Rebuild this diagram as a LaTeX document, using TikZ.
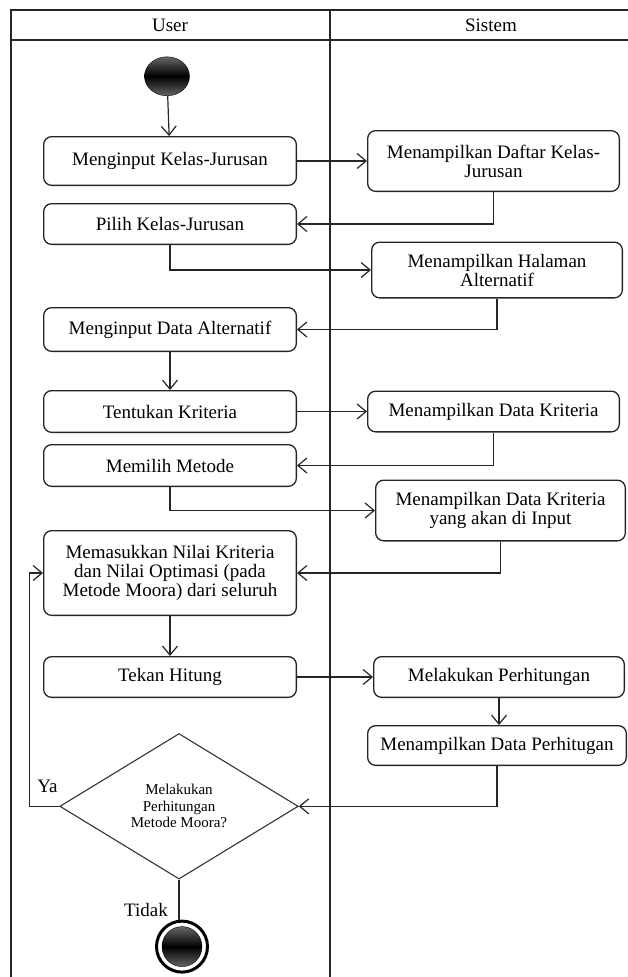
\documentclass[tikz,border=0pt]{standalone}
\usepackage{fontspec}
\setmainfont{Liberation Serif}
\usepackage{tikz}
\usetikzlibrary{arrows.meta,positioning,shapes.geometric}

\begin{document}
\begin{tikzpicture}[x=1pt, y=-1pt,
		every node/.style={font=\fontsize{19}{19}\selectfont},
		lane/.style={line width=1.3pt, black!85},
		box/.style={draw, black!85, text=black, line width=1.3pt, rounded corners=8pt, minimum width=252.7pt, minimum height=40.7pt, align=center, inner sep=2pt},
		decision/.style={diamond, draw, black!80, text=black, line width=1.1pt, minimum width=238.5pt, minimum height=145.5pt, inner sep=0pt, align=center, font=\fontsize{15}{16.5}\selectfont},
		startnode/.style={ellipse, draw, minimum width=45pt, minimum height=39pt, inner sep=0pt, top color=black!60, bottom color=black!60, middle color=black},
		finish/.style={circle, draw, line width=3pt, minimum size=51pt, inner sep=0pt, fill=white},
		enddot/.style={circle, draw, minimum size=40pt, inner sep=0pt, top color=black!60, bottom color=black!60, middle color=black},
		flow/.style={->, line width=1.2pt, black!85},
		>={Straight Barb[length=9pt,width=15pt]}]
		\useasboundingbox (0,0) rectangle (628,977);
		% swimlanes
		\draw[lane] (11,977) -- (11,10) -- (628,10);
		\draw[lane] (11,40) -- (628,40);
		\draw[lane] (330,10) -- (330,977);
		\node (user) at (170,25) {User};
		\node (sistem) at (491,25) {Sistem};
		% user lane
		\node[box, minimum height=48.7pt] (input) at (170,161) {Menginput Kelas-Jurusan};
		\node[startnode] (start)[above=40pt of input, xshift=-3pt]{};
		\node[box] (pilih)[below=17pt of input]{Pilih Kelas-Jurusan};
		\node[box, minimum height=43.7pt] (dataAlt)[below=62pt of pilih]{Menginput Data Alternatif};
		\node[box, minimum height=41.7pt] (tentukan)[below=38pt of dataAlt]{Tentukan Kriteria};
		\node[box, minimum height=41.7pt] (metode)[below=11pt of tentukan]{Memilih Metode};
		\node[box, minimum height=84.7pt] (nilai)[below=43pt of metode]{Memasukkan Nilai Kriteria\\dan Nilai Optimasi (pada\\Metode Moora) dari seluruh};
		\node[box] (hitung)[below=40pt of nilai]{Tekan Hitung};
		\node[decision] (cek)[below=35pt of hitung, xshift=9pt]{Melakukan\\Perhitungan\\Metode Moora?};
		\node[finish] (akhir)[below=40pt of cek, xshift=3pt]{};
		\node[enddot] (akhirDot) at (akhir) {};
		% sistem lane
		\node[box, minimum height=60.7pt, minimum width=251.7pt] (daftar)[right=70pt of input]{Menampilkan Daftar Kelas-\\Jurusan};
		\node[box, minimum height=55.7pt, minimum width=250.7pt] (halaman)[right=74pt of pilih, yshift=-46pt]{Menampilkan Halaman\\Alternatif};
		\node[box, minimum width=251.7pt] (kriteria)[right=70pt of tentukan]{Menampilkan Data Kriteria};
		\node[box, minimum height=60.7pt, minimum width=249.7pt] (kritInput)[right=78pt of metode, yshift=-45pt]{Menampilkan Data Kriteria\\yang akan di Input};
		\node[box, minimum width=250.7pt] (lakukan)[right=76pt of hitung]{Melakukan Perhitungan};
		\node[box, minimum height=39.7pt, minimum width=258.7pt] (hasil)[below=27pt of lakukan, xshift=-2pt]{Menampilkan Data Perhitugan};
		% flows
		\draw[flow] (start) -- (input);
		\draw[flow] (input) -- (daftar);
		\draw[flow] (daftar.south) |- (pilih.east);
		\draw[flow] (pilih.south) |- (halaman.west);
		\draw[flow] (halaman.south) |- (dataAlt.east);
		\draw[flow] (dataAlt) -- (tentukan);
		\draw[flow] (tentukan) -- (kriteria);
		\draw[flow] (kriteria.south) |- (metode.east);
		\draw[flow] (metode.south) |- (kritInput.west);
		\draw[flow] (kritInput.south) |- (nilai.east);
		\draw[flow] (nilai) -- (hitung);
		\draw[flow] (hitung) -- (lakukan);
		\draw[flow] (lakukan.south) -- (lakukan.south |- hasil.north);
		\draw[flow] (hasil.south) |- (cek.east);
		\coordinate (balik) at ([xshift=-30pt]cek.west);
		\draw[flow] (cek.west) -- (balik) |- (nilai.west);
		\draw[line width=1.2pt, black!85] (cek.south) -- (cek.south |- akhir.north);
		\node[anchor=base west, inner sep=0pt] (ya) at ([xshift=8pt, yshift=14pt]balik) {Ya};
		\node[anchor=base east, inner sep=0pt] (tidak) at ([xshift=-11pt, yshift=-37pt]cek.south) {Tidak};
	\end{tikzpicture}
\end{document}
